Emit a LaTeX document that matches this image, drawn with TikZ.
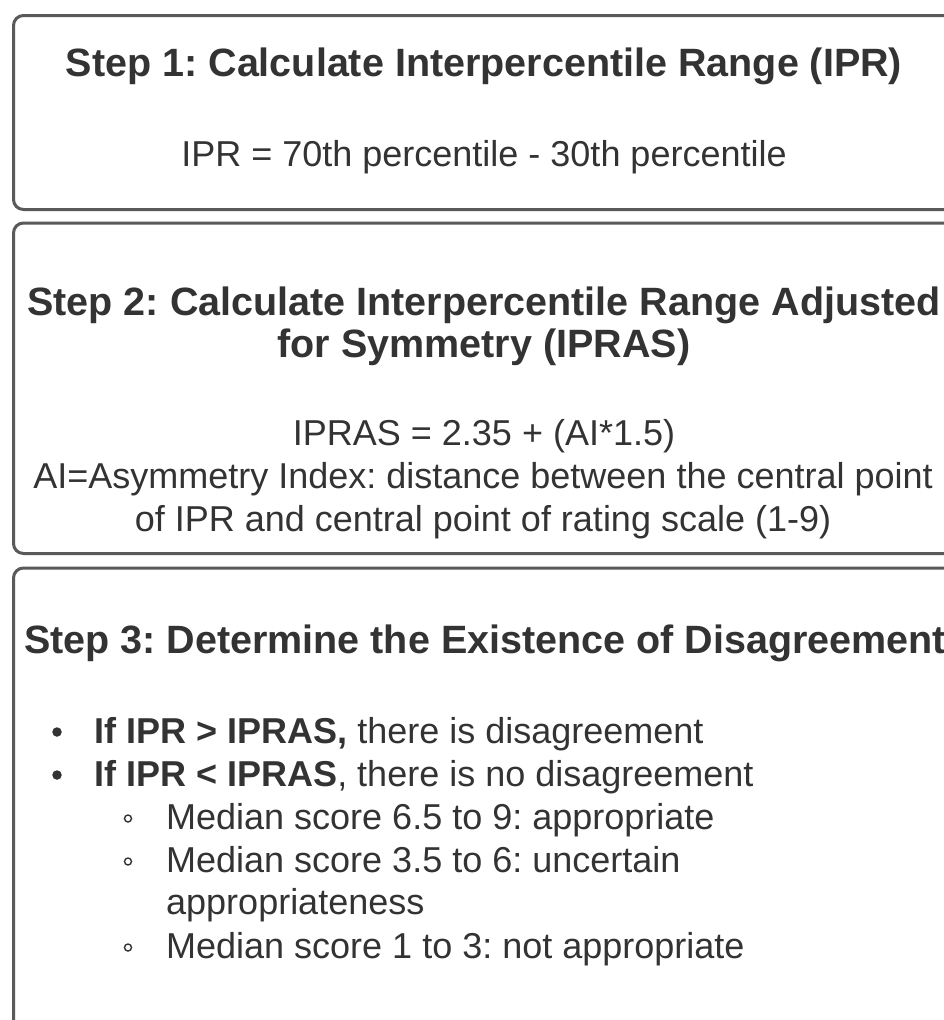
\documentclass[tikz,border=0pt]{standalone}
\usepackage{fontspec}
\setmainfont{Liberation Sans}
\frenchspacing
\definecolor{txt}{HTML}{333333}
\definecolor{edge}{HTML}{5A5A5A}
\begin{document}
\begin{tikzpicture}[x=1pt,y=-1pt,
  box/.style={draw=edge, line width=3pt, rounded corners=10pt, fill=white},
  ttl/.style={text=txt, font=\fontsize{39.5}{42.7}\selectfont\bfseries\frenchspacing, inner sep=0pt, anchor=base},
  body/.style={text=txt, font=\fontsize{36}{42.7}\selectfont\frenchspacing, inner sep=0pt, anchor=base},
  lbody/.style={body, anchor=base west},
  dotb/.style={circle, fill=txt, inner sep=0pt, minimum size=9.5pt},
  ringb/.style={circle, draw=txt, line width=1.4pt, inner sep=0pt, minimum size=7pt}]
\useasboundingbox (0,0) rectangle (944,1020);
\clip (0,0) rectangle (944,1020);
\fill[white] (0,0) rectangle (944,1020);
% boxes
\draw[box] (13.5,15.5) rectangle (958,209.5);
\draw[box] (13.5,223) rectangle (958,553.5);
\draw[box] (13.5,568) rectangle (958,1040);
% step 1
\node[ttl] (t1) at (484,76) {Step 1: Calculate Interpercentile Range (IPR)};
\node[body] (f1) at (484,166.5) {IPR = 70th percentile - 30th percentile};
% step 2
\node[ttl] (t2a) at (484,315) {Step 2: Calculate Interpercentile Range Adjusted};
\node[ttl] (t2b) at (484,357.5) {for Symmetry (IPRAS)};
\node[body] (f2a) at (484,445) {IPRAS = 2.35 + (AI*1.5)};
\node[body] (f2b) at (483,488.5) {AI=Asymmetry Index: distance between the central point};
\node[body] (f2c) at (483,531.5) {of IPR and central point of rating scale (1-9)};
% step 3
\node[ttl] (t3) at (485,653) {Step 3: Determine the Existence of Disagreement};
\node[dotb] (b1) at (57,732) {};
\node[lbody] (l1) at (94,743) {{\bfseries If IPR > IPRAS,} there is disagreement};
\node[dotb] (b2) at (57,775) {};
\node[lbody] (l2) at (94,786) {{\bfseries If IPR < IPRAS}, there is no disagreement};
\node[ringb] (r1) at (128,818.5) {};
\node[lbody] (l3) at (166,829) {Median score 6.5 to 9: appropriate};
\node[ringb] (r2) at (128,861.5) {};
\node[lbody] (l4) at (166,872) {Median score 3.5 to 6: uncertain};
\node[lbody] (l5) at (166,914.5) {appropriateness};
\node[ringb] (r3) at (128,947.5) {};
\node[lbody] (l6) at (166,958) {Median score 1 to 3: not appropriate};
\end{tikzpicture}
\end{document}
